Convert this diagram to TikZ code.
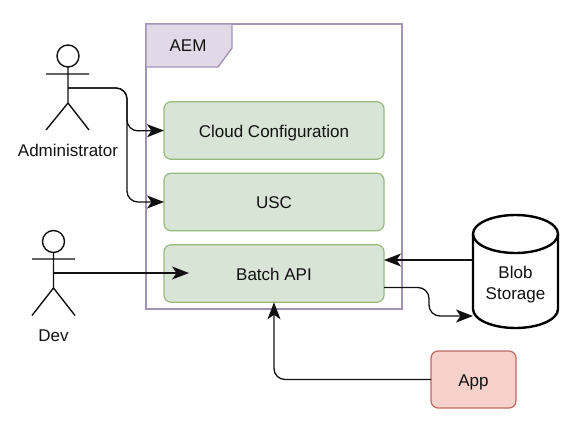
\documentclass[tikz,border=0pt]{standalone}
\usepackage{fontspec}
\setmainfont{Liberation Sans}
\usetikzlibrary{arrows.meta,calc,positioning}
\definecolor{frameC}{HTML}{A294B8}
\definecolor{tabF}{HTML}{E1D8E8}
\definecolor{greenF}{HTML}{D8E4D6}
\definecolor{greenD}{HTML}{98B87E}
\definecolor{redF}{HTML}{F6D0CB}
\definecolor{redD}{HTML}{BC6A62}
\definecolor{inkC}{HTML}{111111}
\tikzset{
  x=1pt,y=-1pt,
  every node/.style={font=\fontsize{17}{21}\selectfont,text=inkC,inner sep=0pt,outer sep=0pt},
  gbox/.style={draw=greenD,fill=greenF,line width=1.2pt,rounded corners=7pt,minimum width=220pt,minimum height=57.5pt,text height=13pt,text depth=0pt},
  abox/.style={draw=redD,fill=redF,line width=1.2pt,rounded corners=7pt,minimum width=85pt,minimum height=57pt,text height=13pt,text depth=0pt},
  conn/.style={draw=inkC,line width=1.3pt,rounded corners=11pt,-{Stealth[length=17pt,width=13pt,inset=4.5pt]}},
  actorline/.style={draw=inkC,line width=1.4pt},
  cyl/.style={draw=black,line width=2.4pt,fill=white},
}
\begin{document}
\begin{tikzpicture}
\useasboundingbox (0,0) rectangle (587,429);
% frame
\node[draw=frameC,line width=1.4pt,minimum width=256pt,minimum height=285pt] (aem) at (274,166.5) {};
\path[draw=frameC,fill=tabF,line width=1.4pt] (146,24) -- (232,24) -- (232,48) -- (218,67) -- (146,67) -- cycle;
\node (aemlabel) at (188,46) {AEM};
% boxes
\node[gbox] (cloud) at (274,130.5) {Cloud Configuration};
\node[gbox] (usc) at (274,202) {USC};
\node[gbox] (batch) at (274,273.5) {Batch API};
\node[abox] (app) at (473.5,379.5) {App};
% cylinder
\path[cyl] (473,234) -- (473,309) arc[start angle=180,end angle=0,x radius=42.5,y radius=19] -- (558,234);
\path[cyl] (515.5,234) ellipse[x radius=42.5,y radius=19];
\node[align=center] (blob) at (515.5,285) {Blob\\Storage};
\coordinate (blobin) at (473,316);
\coordinate (blobout) at (473,260);
% administrator
\node[draw=inkC,line width=1.4pt,circle,minimum size=22pt] (ahead) at (68,56) {};
\coordinate (aneck) at (68,67);
\coordinate (ahip) at (68,103);
\coordinate (agrip) at (68,88);
\path[actorline] (aneck) -- (ahip) (46,74) -- (89,74) (46,130) -- (ahip) -- (89,130);
\node (alabel) at (68,150) {Administrator};
% dev
\node[draw=inkC,line width=1.4pt,circle,minimum size=22pt] (dhead) at (53.5,241.5) {};
\coordinate (dneck) at (53.5,252.5);
\coordinate (dhip) at (53.5,288);
\coordinate (dgrip) at (53.5,273);
\path[actorline] (dneck) -- (dhip) (32,259) -- (75,259) (32,315.5) -- (dhip) -- (75,315.5);
\node (dlabel) at (53.5,335.5) {Dev};
% connectors
\draw[conn] (agrip) -- (127,88) -- (127,131) -- (cloud.west);
\draw[conn] (agrip) -- (127,88) -- (127,202) -- (usc.west);
\draw[conn,rounded corners=0pt] (dgrip) -- (189,273);
\draw[conn] (blobout) -- (batch.east |- blobout) ;
\draw[conn] (batch.east |- 0,287.5) -- (429,287.5) -- (429,316) -- (blobin);
\draw[conn] (app.west) -- (274,379.5) -- (batch.south);
\end{tikzpicture}
\end{document}
